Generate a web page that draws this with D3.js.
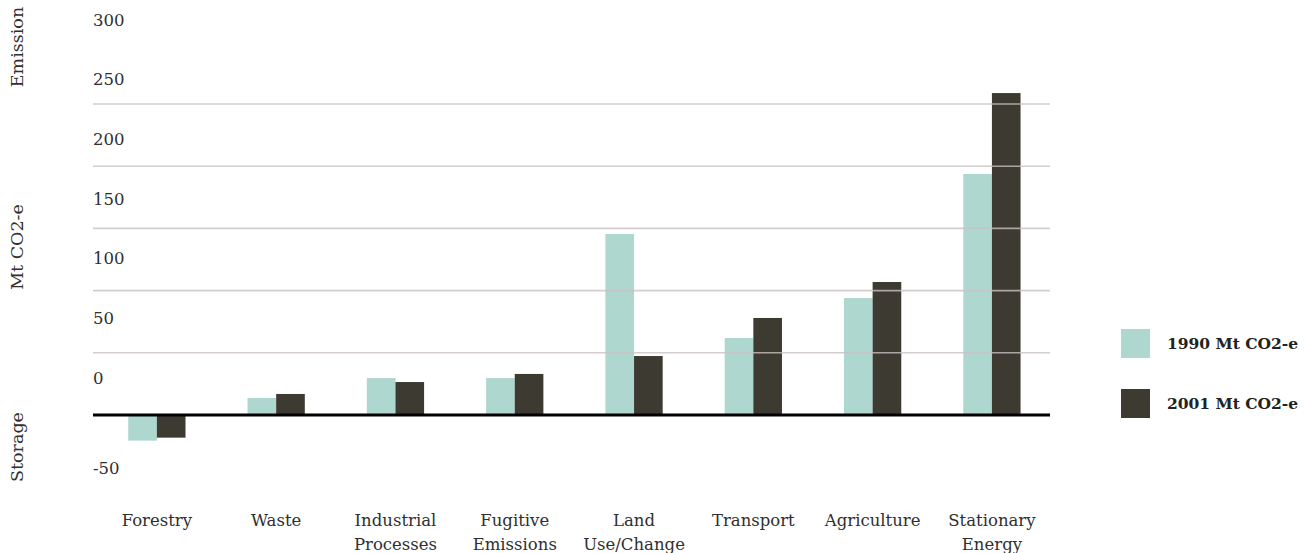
<!DOCTYPE html>
<html>
<head>
<meta charset="utf-8">
<script src="https://cdn.jsdelivr.net/npm/d3@7"></script>
<style>
  body { margin: 0; background: #fff; }
  text { font-family: "DejaVu Serif", serif; fill: #2f2f2f; }
</style>
</head>
<body>
<script>
const width = 1304;
const height = 553;

const sectors = [
  ["Forestry"], ["Waste"], ["Industrial", "Processes"], ["Fugitive", "Emissions"],
  ["Land", "Use/Change"], ["Transport"], ["Agriculture"], ["Stationary", "Energy"]
];
const values1990 = [-20.6, 13.7, 29.7, 29.7, 145.5, 61.9, 94, 193.7];
const values2001 = [-18.2, 16.9, 26.5, 33, 47.4, 78, 106.9, 258.8];
const seriesNames = ["1990 Mt CO2-e", "2001 Mt CO2-e"];
const seriesColors = ["#aed7cf", "#3d3a32"];
const tickLabels = [300, 250, 200, 150, 100, 50, 0, -50];
const gridValues = [50, 100, 150, 200, 250];
const axisTitles = ["Emission", "Mt CO2-e", "Storage"];

const svg = d3.select("body").append("svg")
  .attr("width", width)
  .attr("height", height);

const keys = sectors.map(d => d.join(" "));

const x = d3.scaleBand()
  .domain(keys)
  .range([68.6, 1080.2])
  .paddingInner(0.52)
  .paddingOuter(0.5);

const xSub = d3.scaleBand()
  .domain([0, 1])
  .range([0, x.bandwidth()]);

const y = d3.scaleLinear().domain([0, 250]).range([415, 104]);

// the printed tick labels sit on their own spacing, not on the gridlines
const yLabel = d3.scaleLinear().domain([-50, 0, 300]).range([468, 378, 20]);

// bars
const rows = keys.map((k, i) => ({ key: k, vals: [values1990[i], values2001[i]] }));

const groups = svg.append("g").selectAll("g")
  .data(rows)
  .join("g")
  .attr("transform", d => `translate(${x(d.key)},0)`);

groups.selectAll("rect")
  .data(d => d.vals.map((v, j) => ({ v, j })))
  .join("rect")
  .attr("x", d => xSub(d.j))
  .attr("width", xSub.bandwidth())
  .attr("y", d => Math.min(y(d.v), y(0)))
  .attr("height", d => Math.abs(y(d.v) - y(0)))
  .attr("fill", d => seriesColors[d.j]);

// gridlines drawn over the bars
svg.append("g").selectAll("line")
  .data(gridValues)
  .join("line")
  .attr("x1", 93)
  .attr("x2", 1050)
  .attr("y1", d => y(d))
  .attr("y2", d => y(d))
  .attr("stroke", "#c9c0c0")
  .attr("stroke-width", 1.6)
  .attr("stroke-opacity", 0.8);

// zero line
svg.append("line")
  .attr("x1", 93)
  .attr("x2", 1050)
  .attr("y1", y(0))
  .attr("y2", y(0))
  .attr("stroke", "#000")
  .attr("stroke-width", 3);

// y tick labels
svg.append("g").selectAll("text")
  .data(tickLabels)
  .join("text")
  .attr("x", 93)
  .attr("y", d => yLabel(d))
  .attr("dy", "0.35em")
  .attr("font-size", 16.5)
  .text(d => d);

// rotated axis titles
const titleY = [47, 247, 447];
svg.append("g").selectAll("text")
  .data(axisTitles)
  .join("text")
  .attr("transform", (d, i) => `translate(17,${titleY[i]}) rotate(-90)`)
  .attr("text-anchor", "middle")
  .attr("dy", "0.35em")
  .attr("font-size", 17.5)
  .text(d => d);

// category labels
const labels = svg.append("g").selectAll("text")
  .data(sectors)
  .join("text")
  .attr("x", (d, i) => x(keys[i]) + x.bandwidth() / 2)
  .attr("y", 526)
  .attr("text-anchor", "middle")
  .attr("font-size", 16.5);

labels.selectAll("tspan")
  .data(d => d)
  .join("tspan")
  .attr("x", function () { return d3.select(this.parentNode).attr("x"); })
  .attr("dy", (d, i) => i === 0 ? 0 : 24)
  .text(d => d);

// legend
const legend = svg.append("g").selectAll("g")
  .data(seriesNames)
  .join("g")
  .attr("transform", (d, i) => `translate(1121,${329 + i * 60})`);

legend.append("rect")
  .attr("width", 29)
  .attr("height", 29)
  .attr("fill", (d, i) => seriesColors[i]);

legend.append("text")
  .attr("x", 46)
  .attr("y", 15)
  .attr("dy", "0.35em")
  .attr("font-size", 15.5)
  .attr("font-weight", "bold")
  .style("fill", "#222")
  .text(d => d);
</script>
</body>
</html>
